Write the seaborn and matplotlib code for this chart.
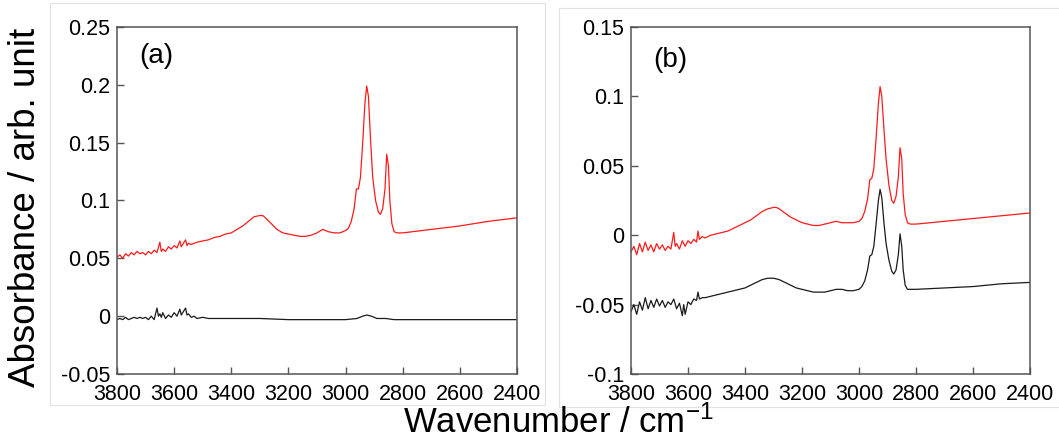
import matplotlib
matplotlib.use("Agg")
import matplotlib.pyplot as plt
import seaborn as sns
import pandas as pd
from matplotlib.patches import Rectangle

# ---------------- data ----------------
# panel (a)
a_red_x = [3800, 3790, 3780, 3770, 3760, 3750, 3740, 3730, 3720, 3710, 3700, 3690, 3680, 3670, 3660,
           3650, 3645, 3640, 3630, 3620, 3610, 3600, 3590, 3580, 3575, 3570, 3560, 3555, 3550, 3540,
           3520, 3500, 3480, 3460, 3440, 3420, 3400, 3380, 3360, 3340, 3320, 3300, 3290, 3280, 3260,
           3240, 3220, 3200, 3180, 3160, 3140, 3120, 3100, 3080, 3060, 3040, 3020, 3000, 2990, 2980,
           2970, 2962, 2955, 2948, 2940, 2932, 2926, 2920, 2912, 2905, 2895, 2885, 2878, 2870, 2862,
           2856, 2850, 2845, 2838, 2830, 2820, 2800, 2700, 2600, 2500, 2400]
a_red_y = [0.051, 0.053, 0.050, 0.054, 0.052, 0.055, 0.053, 0.056, 0.054, 0.055, 0.053, 0.056, 0.054, 0.057, 0.055,
           0.064, 0.056, 0.058, 0.056, 0.060, 0.058, 0.061, 0.059, 0.065, 0.060, 0.062, 0.066, 0.061, 0.063, 0.062,
           0.064, 0.065, 0.066, 0.068, 0.069, 0.071, 0.072, 0.075, 0.078, 0.082, 0.086, 0.087, 0.087, 0.085, 0.080,
           0.075, 0.072, 0.071, 0.070, 0.069, 0.069, 0.070, 0.072, 0.075, 0.073, 0.072, 0.072, 0.074, 0.076, 0.082,
           0.093, 0.110, 0.110, 0.120, 0.150, 0.185, 0.199, 0.190, 0.150, 0.120, 0.100, 0.090, 0.088, 0.093, 0.110,
           0.140, 0.130, 0.100, 0.080, 0.073, 0.072, 0.072, 0.075, 0.078, 0.082, 0.085]

a_blk_x = [3800, 3790, 3780, 3770, 3760, 3750, 3740, 3730, 3720, 3710, 3700, 3690, 3680, 3670, 3660,
           3655, 3650, 3645, 3640, 3630, 3620, 3610, 3600, 3590, 3580, 3575, 3570, 3560, 3555, 3550,
           3540, 3530, 3520, 3500, 3480, 3450, 3400, 3300, 3200, 3100, 3000, 2960, 2940, 2925, 2910,
           2890, 2860, 2830, 2700, 2600, 2500, 2400]
a_blk_y = [-0.003, -0.002, -0.003, -0.001, -0.003, -0.002, -0.001, -0.002, -0.001, -0.002, -0.001, -0.003, 0.000, -0.003, 0.007,
           0.000, 0.002, -0.001, 0.003, -0.002, 0.001, -0.001, 0.003, 0.000, 0.006, 0.001, 0.003, 0.007, 0.001, 0.002,
           -0.001, 0.000, -0.002, -0.001, -0.002, -0.002, -0.002, -0.002, -0.003, -0.003, -0.003, -0.002, 0.000, 0.001, 0.000,
           -0.002, -0.002, -0.003, -0.003, -0.003, -0.003, -0.003]

# panel (b)
b_red_x = [3800, 3790, 3780, 3770, 3760, 3750, 3740, 3730, 3720, 3710, 3700, 3690, 3680, 3670, 3660,
           3650, 3645, 3640, 3630, 3620, 3610, 3600, 3590, 3580, 3570, 3565, 3560, 3550, 3540, 3520,
           3500, 3480, 3460, 3440, 3420, 3400, 3380, 3360, 3340, 3320, 3300, 3290, 3280, 3260, 3240,
           3220, 3200, 3180, 3160, 3140, 3120, 3100, 3080, 3060, 3040, 3020, 3000, 2990, 2980, 2970,
           2962, 2955, 2948, 2940, 2932, 2926, 2920, 2912, 2905, 2895, 2885, 2878, 2870, 2862, 2856,
           2850, 2845, 2838, 2830, 2820, 2800, 2700, 2600, 2500, 2400]
b_red_y = [-0.012, -0.008, -0.014, -0.006, -0.012, -0.005, -0.011, -0.007, -0.012, -0.006, -0.010, -0.007, -0.011, -0.008, -0.010,
           0.002, -0.008, -0.006, -0.010, -0.004, -0.008, -0.004, -0.006, -0.003, -0.005, 0.003, -0.003, -0.001, -0.002, 0.000,
           0.001, 0.002, 0.003, 0.005, 0.007, 0.009, 0.011, 0.014, 0.017, 0.019, 0.020, 0.020, 0.019, 0.016, 0.013,
           0.011, 0.009, 0.008, 0.007, 0.007, 0.008, 0.009, 0.010, 0.009, 0.009, 0.009, 0.010, 0.012, 0.017, 0.026,
           0.040, 0.041, 0.048, 0.070, 0.095, 0.107, 0.100, 0.075, 0.055, 0.036, 0.025, 0.023, 0.028, 0.042, 0.063,
           0.055, 0.030, 0.015, 0.009, 0.008, 0.008, 0.010, 0.012, 0.014, 0.016]

b_blk_x = [3800, 3790, 3780, 3770, 3760, 3750, 3740, 3730, 3720, 3710, 3700, 3690, 3680, 3670, 3660,
           3650, 3640, 3630, 3620, 3615, 3610, 3600, 3590, 3580, 3570, 3565, 3560, 3550, 3540, 3520,
           3500, 3480, 3460, 3440, 3420, 3400, 3380, 3360, 3340, 3320, 3300, 3280, 3260, 3240, 3220,
           3200, 3180, 3160, 3140, 3120, 3100, 3080, 3060, 3040, 3020, 3000, 2990, 2980, 2970, 2962,
           2955, 2948, 2940, 2932, 2926, 2920, 2912, 2905, 2895, 2885, 2878, 2870, 2862, 2856, 2850,
           2845, 2838, 2830, 2820, 2800, 2700, 2600, 2500, 2400]
b_blk_y = [-0.055, -0.050, -0.057, -0.048, -0.054, -0.045, -0.053, -0.047, -0.052, -0.046, -0.051, -0.047, -0.052, -0.048, -0.050,
           -0.046, -0.053, -0.049, -0.058, -0.050, -0.057, -0.048, -0.050, -0.046, -0.047, -0.041, -0.046, -0.045, -0.045, -0.044,
           -0.043, -0.042, -0.041, -0.040, -0.039, -0.038, -0.036, -0.034, -0.032, -0.031, -0.031, -0.032, -0.034, -0.036, -0.038,
           -0.039, -0.040, -0.041, -0.041, -0.041, -0.040, -0.039, -0.039, -0.040, -0.040, -0.039, -0.037, -0.033, -0.025, -0.015,
           -0.014, -0.008, 0.008, 0.025, 0.033, 0.027, 0.008, -0.006, -0.018, -0.026, -0.028, -0.025, -0.014, 0.001, -0.008,
           -0.025, -0.036, -0.039, -0.039, -0.039, -0.038, -0.037, -0.035, -0.034]

x_ticks = [3800, 3600, 3400, 3200, 3000, 2800, 2600, 2400]
a_yticks = [-0.05, 0, 0.05, 0.1, 0.15, 0.2, 0.25]
a_ylabels = ["-0.05", "0", "0.05", "0.1", "0.15", "0.2", "0.25"]
b_yticks = [-0.1, -0.05, 0, 0.05, 0.1, 0.15]
b_ylabels = ["-0.1", "-0.05", "0", "0.05", "0.1", "0.15"]

# ---------------- style ----------------
sns.set_theme(style="white")
plt.rcParams["font.family"] = ["Liberation Sans", "DejaVu Sans"]
plt.rcParams["mathtext.fontset"] = "custom"
plt.rcParams["mathtext.rm"] = "Liberation Sans"
plt.rcParams["mathtext.it"] = "Liberation Sans"
plt.rcParams["text.color"] = "black"
plt.rcParams["xtick.color"] = "black"
plt.rcParams["ytick.color"] = "black"

fig = plt.figure(figsize=(10.59, 4.44), dpi=100)
fig.patch.set_facecolor("white")

# light frames around each sub-figure
fig.patches.append(Rectangle((50 / 1059, 1 - 405 / 444), 495 / 1059, 402 / 444,
                             transform=fig.transFigure, fill=False, ec="#e2e2e2", lw=0.8))
fig.patches.append(Rectangle((559 / 1059, 1 - 407 / 444), 505 / 1059, 399 / 444,
                             transform=fig.transFigure, fill=False, ec="#e2e2e2", lw=0.8))

ax_a = fig.add_axes([117 / 1059, 1 - 374 / 444, 400 / 1059, 347 / 444])
ax_b = fig.add_axes([631 / 1059, 1 - 374 / 444, 399 / 1059, 347 / 444])

panels = [
    (ax_a, a_red_x, a_red_y, a_blk_x, a_blk_y, a_yticks, a_ylabels, (-0.05, 0.25), "(a)", 0.916),
    (ax_b, b_red_x, b_red_y, b_blk_x, b_blk_y, b_yticks, b_ylabels, (-0.1, 0.15), "(b)", 0.906),
]

for ax, rx, ry, kx, ky, yt, yl, ylim, lab, ly in panels:
    dr = pd.DataFrame({"wn": rx, "abs": ry})
    dk = pd.DataFrame({"wn": kx, "abs": ky})
    sns.lineplot(data=dr, x="wn", y="abs", ax=ax, color="#ff1a1a", lw=0.9, sort=False, estimator=None)
    sns.lineplot(data=dk, x="wn", y="abs", ax=ax, color="#1a1a1a", lw=0.9, sort=False, estimator=None)
    ax.set_xlim(3800, 2400)
    ax.set_ylim(*ylim)
    ax.set_xticks(x_ticks)
    ax.set_xticklabels([str(v) for v in x_ticks])
    ax.set_yticks(yt)
    ax.set_yticklabels(yl)
    ax.set_xlabel("")
    ax.set_ylabel("")
    ax.tick_params(axis="both", direction="in", length=5, width=1.0, color="#555555",
                   labelsize=15.5, labelcolor="black", left=True, bottom=True)
    ax.tick_params(axis="y", pad=5)
    ax.tick_params(axis="x", pad=7)
    for s in ax.spines.values():
        s.set_color("#555555")
        s.set_linewidth(1.1)
        s.set_visible(True)
    ax.text(0.055, ly, lab, transform=ax.transAxes, fontsize=20, va="center", ha="left",
            color="black")

fig.text(26 / 1059, 1 - 207 / 444, "Absorbance / arb. unit", rotation=90,
         fontsize=26.5, ha="center", va="center", color="black")
fig.text(558 / 1059, 1 - 423 / 444, r"Wavenumber / cm$^{\mathrm{-1}}$",
         fontsize=25, ha="center", va="center", color="black")

fig.savefig("out.png", dpi=100, facecolor="white")
